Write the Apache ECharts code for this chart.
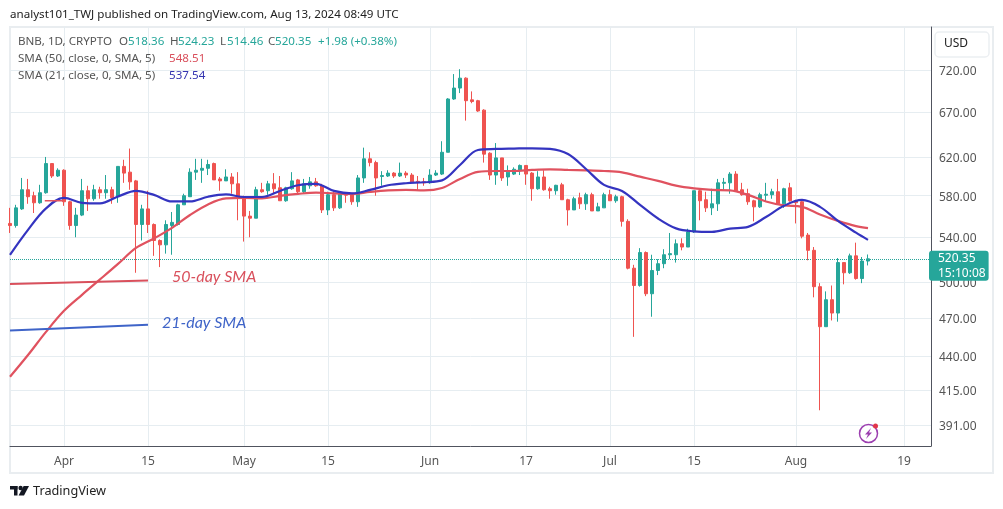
<!DOCTYPE html>
<html><head><meta charset="utf-8">
<style>html,body{margin:0;padding:0;background:#fff}#c{width:1003px;height:509px}</style>
<script src="https://cdn.jsdelivr.net/npm/echarts@6/dist/echarts.min.js"></script></head>
<body><div id="c"></div>
<script>
const firstDay = -9;
const opens = [553,551,567,586,580,573,583,613,600,
606,574,551,561,585,577,586,583,586,579,
610,604,595,552,567,552,537,533,551,552,
571,579,604,606,608,613,597,595,599,592,
579,560,558,586,585,592,588,575,587,596,
584,590,594,590,566,581,568,581.5,581,574,
598,618,614,599.5,600,603,600,603,601,594.5,
594,593,601,602,625,685,698,710,684,683,
672,624,601,619,599,602,606,611,603,587,
599,587,585,591,576,566,578,572,581,565,
568,581,575,579,555,512,497,526,490,510,
516,524,524,534,531,545,585,576,568,572,
592.5,593,602,586,582,575,569,580.5,581,584,
572,588,575,574,542,528,496,463,485,474,
517,508,523,503,518.36];
const closes = [551,568,586,579,573,583,613,600,606,
574,551,561,585,577,586,583,586,578,610,
603,594,552,567,552,537,533,552,554,571,
580,604,606,608,612,596,595,599,592,579,
560,558,586,584,592,587,575,588,595,584,
592,594,590,566,581,568,582,580.5,574,598,
618,614,598,600.5,603,600,603,601,594,593.5,
593,601,603,625,685,698,710,683,682,671,
623,601,619,598,604,607,611,602,587,599,
586,585,590.5,576,566,577,572,581,565,569,
581,575,579,555,512,497,526,490,510,516,
524,525,534,531,545,585,575,568,572,593,
593.5,602,585,581,574,569,581,581.5,584,572,
587,575,573,541,528,496,463,485,474,517,
508,523,503,518.36,520.35];
const lows = [544,549,566,572,563,572,582,598,599,
570,547,540,560,565,575,577,577,572,573,
593,586,508,537,544,523,513,525,524,551,
571,579,596,593,601,596,585,595,582,556,
536,540,558,583,581,582,575,574,586,582,
582,587,589,563,561,565,567,573,571,569,
593,610,580,590,599,598,599,598,593,586,
590,592,600,601,625,684,692,660,680,670,
614,596,591,595,590,601,601,591,575,586,
585,577,581,576,551,566,567,566,565,565,
568,575,573,550,511,455,496,488,471,506,
512,520,517,528,531,544,556,564,561,565,
586,582,584,580,571,555,568,574,577,571,
568,574,553,539,519,487,401,463,468,467,
498,507,502,499,514.46];
const highs = [568,571,598,597,584,591,620,613,608,
607,575,568,597,590,591,589,601,589,610,
617,629,596,571,585,553,538,556,564,572,
582,608,618,618,617,614,599,607,603,604,
580,565,589,593,595,603,600,589,604,597,
597,599,598,592,584,584,583,582,582,601,
630,625,616,605,606,604,614,605,603,600,
598,607,606,637,686,715,721,711,694,684,
673,625,635,619,611,609,612,611,604,605,
606,589,591,593,577,579,583,583,583,573,
583,586,581,580,557,515,530,527,524,520,
529,544,538,539,548,585,587,584,587,597,
598,604,605,593,587,576,583,593,587,597,
588,593,576,576,544,531,499,492,497,521,
517,525,535,522,524.23];
const smaDays = [-9,-6,-3,0,3,6,9,12,15,18,21,24,27,30,33,36,39,42,45,48,51,54,57,60,63,66,69,72,75,78,81,84,87,90,93,96,99,102,105,108,111,114,117,120,123,126,129,132,134];
const sma21 = [523.9,546.9,567.5,577.8,572.9,572.4,579.2,584.8,580.8,574.3,574.3,579,581.3,578.7,578.7,584.8,590.5,592,584.8,582.3,585.8,590.5,592.6,593.6,595.5,611.5,627.5,628.6,629,629.3,628.6,623.1,607.3,590.9,584.8,570.9,557.7,548.3,545.5,545,548.1,549.7,559.1,570,575.8,569,555.4,544.3,537.54];
const sma50 = [424.8,441,458.9,475.8,489.1,502.2,515.8,530.2,538.9,548.8,561.1,571.4,577.3,577.8,577.3,579.8,581.8,583.1,582.4,581.8,583.8,585.3,585.8,585.3,587.8,597,604.2,605.2,605.2,606.3,606.9,606.3,605.9,605.2,603.7,599.3,595,590.1,587.3,585.8,585.3,580.8,574.3,570.4,569,561.6,555.4,550.4,548.51];
const note50Days = [-9,14], note50Values = [498.2,501.2];
const note21Days = [-9,14], note21Values = [460,464.6];
const stubDays = [-3.2,-0.2], stubValues = [575,575];
const priceTicks = [720,670,620,580,540,500,470,440,415,391];
const dayTicks = [0,14,30,44,61,77,91,105,122,140];
const dayLabels = ['Apr','15','May','15','Jun','17','Jul','15','Aug','19'];
const lastPrice = 520.35, countdown = '15:10:08';

const UP='#26a69a', DOWN='#ef5350', GRID='#e6edf1', FONT='"Noto Sans",sans-serif';
const pair=(xs,ys)=>xs.map((x,i)=>[x,ys[i]]);
const candles = opens.map((o,i)=>[firstDay+i,o,closes[i],lows[i],highs[i]]);
const line=(xs,ys,color,w,z)=>({type:'line',data:pair(xs,ys),showSymbol:false,symbol:'none',smooth:0.35,clip:true,silent:true,z:z||3,lineStyle:{color,width:w},emphasis:{disabled:true}});
const SZ=11.6;
const txt=(x,y,text,fill,size,extra)=>({type:'text',x,y,z:50,style:Object.assign({text,fill,font:`${size||SZ}px ${FONT}`,verticalAlign:'middle'},extra||{})});

const chart = echarts.init(document.getElementById('c'),null,{renderer:'canvas'});
chart.setOption({
 animation:false,backgroundColor:'#fff',
 grid:{left:10,right:72,top:27,bottom:63},
 xAxis:{type:'value',min:firstDay,max:144.5,
  axisLine:{show:true,onZero:false,lineStyle:{color:'#50535e',width:1}},
  axisTick:{show:false,customValues:dayTicks},
  splitLine:{show:true,lineStyle:{color:GRID,width:1}},
  axisLabel:{customValues:dayTicks,color:'#555',fontFamily:FONT,fontSize:12,margin:10,showMinLabel:true,showMaxLabel:true,
   formatter:v=>dayLabels[dayTicks.indexOf(v)]}},
 yAxis:{type:'log',logBase:10,min:377.1,max:775.3,position:'right',
  axisLine:{show:true,onZero:false,lineStyle:{color:'#50535e',width:1}},
  axisTick:{show:false,customValues:priceTicks},
  splitLine:{show:true,lineStyle:{color:GRID,width:1}},
  minorSplitLine:{show:false},
  axisLabel:{customValues:priceTicks,color:'#555',fontFamily:FONT,fontSize:12,margin:8,verticalAlign:'top',lineHeight:3,
   formatter:v=>Number(v).toFixed(2)}},
 series:[
  {type:'candlestick',data:candles,barWidth:4,clip:true,silent:true,z:2,
   itemStyle:{color:UP,color0:DOWN,borderColor:UP,borderColor0:DOWN,borderWidth:1},
   markLine:{silent:true,symbol:'none',animation:false,z:1,
    lineStyle:{type:'dotted',color:UP,width:1},
    label:{show:true,position:'end',formatter:lastPrice.toFixed(2)+'\n'+countdown,color:'#fff',fontFamily:FONT,fontSize:12,lineHeight:15,
     backgroundColor:UP,borderRadius:3,padding:[0,3,0,9],distance:0,offset:[-2,7]},
    data:[{yAxis:lastPrice}]}},
  line(smaDays,sma50,'#e0525f',2.2),
  line(smaDays,sma21,'#3434c0',2.2),
  line(note50Days,note50Values,'#d9505c',2),
  line(note21Days,note21Values,'#3f64c8',2),
  line(stubDays,stubValues,'#e0525f',1.5)
 ],
 graphic:{elements:[
  {type:'rect',z:-1,shape:{x:10,y:27,width:983,height:446},style:{fill:'none',stroke:'#e9edf0',lineWidth:2}},
  txt(10,15,'analyst101_TWJ published on TradingView.com, Aug 13, 2024 08:49 UTC','#222'),
  txt(18,42,'BNB, 1D, CRYPTO','#555'),
  txt(119,42,'O','#555'),txt(128,42,'518.36',UP),
  txt(170,42,'H','#555'),txt(178,42,'524.23',UP),
  txt(220,42,'L','#555'),txt(227,42,'514.46',UP),
  txt(268,42,'C','#555'),txt(275,42,'520.35',UP),
  txt(318,42,'+1.98 (+0.38%)',UP),
  txt(18,59,'SMA (50, close, 0, SMA, 5)','#555'),txt(169,59,'548.51','#d9505c'),
  txt(18,76,'SMA (21, close, 0, SMA, 5)','#555'),txt(169,76,'537.54','#3434b0'),
  {type:'rect',z:50,shape:{x:935,y:32,width:54,height:25,r:4},style:{fill:'#fff',stroke:'#eceff2',lineWidth:1.5}},
  txt(944,44,'USD','#222',12),
  {type:'text',x:172,y:277,z:50,style:{text:'50-day SMA',fill:'#d9505c',font:'italic 16px Lato',verticalAlign:'middle'}},
  {type:'text',x:162,y:323,z:50,style:{text:'21-day SMA',fill:'#3f64c8',font:'italic 16px Lato',verticalAlign:'middle'}},
  {type:'rect',z:50,shape:{x:10,y:486,width:7.5,height:3.5},style:{fill:'#131722'}},
  {type:'rect',z:50,shape:{x:14,y:486,width:3.5,height:9.5},style:{fill:'#131722'}},
  {type:'circle',z:50,shape:{cx:20.6,cy:488,r:2.2},style:{fill:'#131722'}},
  {type:'polygon',z:50,shape:{points:[[29,486],[24,495.5],[18.6,495.5],[23.6,486]]},style:{fill:'#131722'}},
  txt(33,491,'TradingView','#222',12.7),
  {type:'circle',z:50,shape:{cx:868.5,cy:433.5,r:9},style:{fill:'#fff',stroke:'#9c3fb0',lineWidth:1.5}},
  {type:'polygon',z:50,shape:{points:[[871,428],[865,434.5],[868,434.5],[866,439],[872,432.5],[869,432.5]]},style:{fill:'#9c3fb0'}},
  {type:'circle',z:50,shape:{cx:875.5,cy:426,r:2.5},style:{fill:'#e2364a'}}
 ]}
});
</script></body></html>
